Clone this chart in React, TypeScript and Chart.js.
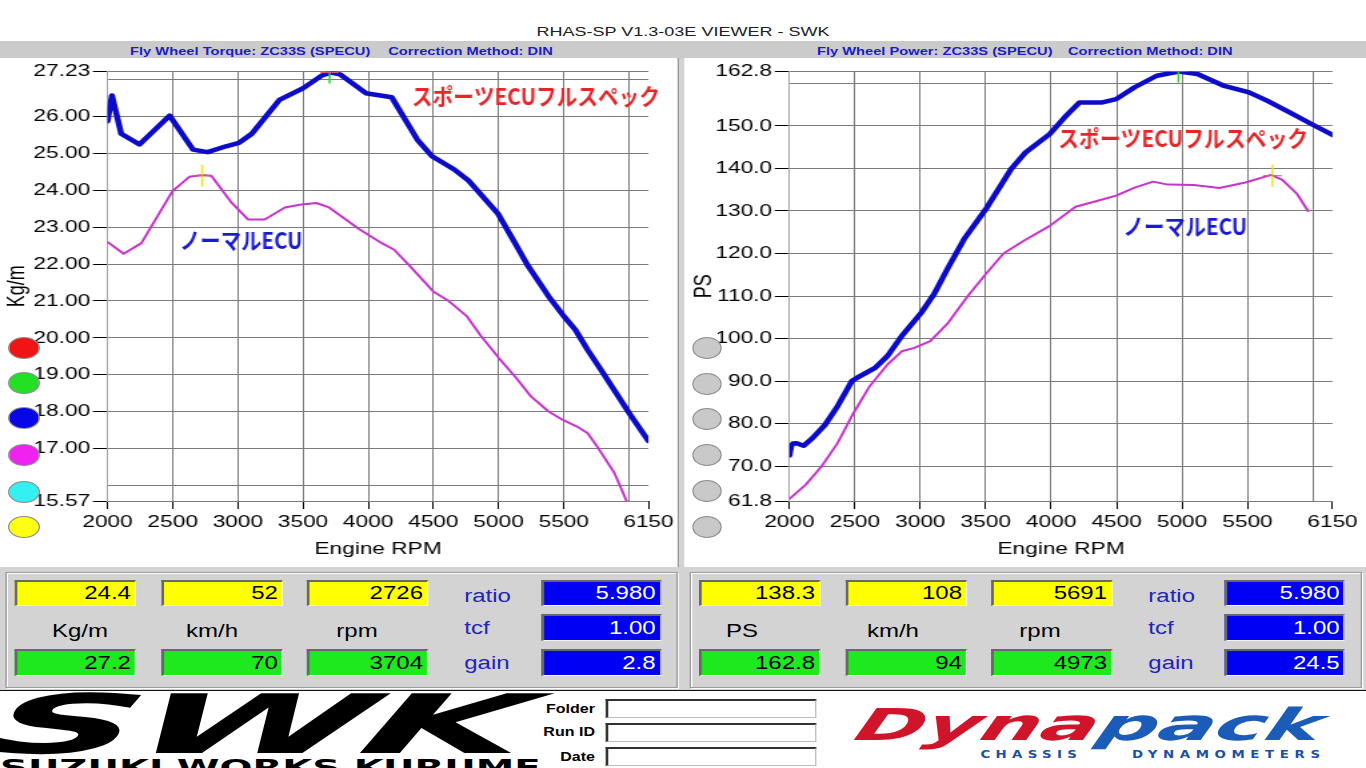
import React, { useEffect, useRef } from 'react';
import { Chart, registerables } from 'chart.js';

Chart.register(...registerables);

// The reference is a 1024-wide viewer screenshot stretched to 1366 px.
const STRETCH = 1366 / 1024;
const FONT = '"Liberation Sans", Arial, sans-serif';
const NARROW = '"Liberation Sans Narrow", "Liberation Sans", Arial, sans-serif';
const JP_FONT = '"Noto Sans CJK JP", "Noto Sans", sans-serif';
const GRID = '#7b7b7b';
const CLEAR = 'rgba(0,0,0,0)';
const SPORT_COLOR = '#0c0cc8';
const NORMAL_COLOR = '#c733cc';

// ---------------- data ----------------
const rpmTicks = [2000, 2500, 3000, 3500, 4000, 4500, 5000, 5500, 6000, 6150];
const rpmUnlabeled = [6000];

const torqueTicks = [15.57, 16, 17, 18, 19, 20, 21, 22, 23, 24, 25, 26, 27, 27.23];
const torqueUnlabeled = [16, 27];
const powerTicks = [61.8, 70, 80, 90, 100, 110, 120, 130, 140, 150, 160, 162.8];
const powerUnlabeled = [160];

// Torque (Kg/m) – sports ECU full spec
const torqueSportRpm = [2000, 2034, 2105, 2246, 2477, 2655, 2768, 2909, 3008, 3107, 3319, 3502, 3643, 3714, 3784, 3982, 4180, 4377, 4490, 4660, 4773, 4998, 5112, 5221, 5385, 5493, 5589, 5684, 5793, 5902, 6011, 6150];
const torqueSportVal = [25.88, 26.58, 25.54, 25.25, 26.03, 25.11, 25.04, 25.2, 25.29, 25.54, 26.46, 26.78, 27.12, 27.2, 27.15, 26.64, 26.53, 25.38, 24.93, 24.57, 24.26, 23.36, 22.66, 21.98, 21.12, 20.62, 20.22, 19.67, 19.09, 18.5, 17.91, 17.2];
// Torque (Kg/m) – normal ECU
const torqueNormalRpm = [2000, 2124, 2260, 2500, 2627, 2726, 2796, 2952, 3079, 3206, 3361, 3474, 3601, 3700, 3926, 4104, 4199, 4322, 4499, 4621, 4758, 4867, 5003, 5126, 5248, 5384, 5493, 5602, 5684, 5766, 5889, 5957, 5990];
const torqueNormalVal = [22.6, 22.28, 22.57, 23.99, 24.37, 24.42, 24.4, 23.67, 23.21, 23.21, 23.54, 23.61, 23.66, 23.54, 22.96, 22.57, 22.39, 21.94, 21.26, 20.99, 20.58, 20.04, 19.45, 18.95, 18.41, 18.0, 17.77, 17.59, 17.41, 17.0, 16.33, 15.78, 15.5];

// Power (PS) – sports ECU full spec
const powerSportRpm = [2000, 2014, 2027, 2054, 2109, 2177, 2272, 2368, 2477, 2518, 2654, 2749, 2858, 3008, 3104, 3213, 3335, 3509, 3693, 3805, 3989, 4102, 4215, 4384, 4497, 4638, 4807, 4976, 5117, 5314, 5512, 5653, 5822, 5992, 6150];
const powerSportVal = [72.5, 74.8, 75.3, 75.4, 74.8, 76.6, 79.7, 84.1, 90.0, 90.8, 93.1, 95.9, 100.6, 106.1, 110.4, 116.7, 123.4, 130.8, 139.8, 143.8, 148.1, 152.0, 155.5, 155.5, 156.3, 159.1, 161.8, 162.8, 162.2, 159.5, 157.9, 155.9, 153.2, 150.4, 147.9];
// Power (PS) – normal ECU
const powerNormalRpm = [2000, 2123, 2245, 2368, 2490, 2613, 2749, 2858, 2954, 3076, 3213, 3363, 3499, 3636, 3791, 3989, 4186, 4356, 4497, 4638, 4779, 4892, 5089, 5286, 5484, 5681, 5766, 5879, 5963];
const powerNormalVal = [62.3, 65.6, 69.9, 75.4, 82.5, 88.8, 93.9, 97.0, 97.8, 99.4, 103.7, 110.0, 115.1, 120.0, 123.0, 126.5, 131.0, 132.4, 133.6, 135.5, 136.9, 136.2, 136.1, 135.4, 136.7, 138.5, 137.3, 134.0, 130.0];

// curve captions: text, rpm span, value (vertical centre)
const torqueCaptions = [
  { text: 'スポーツECUフルスペック', color: '#e52629', rpmFrom: 4336, rpmTo: 6239, value: 26.57 },
  { text: 'ノーマルECU', color: '#1a1ad2', rpmFrom: 2554, rpmTo: 3495, value: 22.64 },
];
const powerCaptions = [
  { text: 'スポーツECUフルスペック', color: '#e52629', rpmFrom: 4053, rpmTo: 5964, value: 147.0 },
  { text: 'ノーマルECU', color: '#1a1ad2', rpmFrom: 4550, rpmTo: 5498, value: 126.35 },
];

// measurement cursors
const torqueCursors = [
  { rpm: 2726, value: 24.4, color: '#f2e21a' },
  { rpm: 3704, value: 27.2, color: '#2fd02f' },
];
const powerCursors = [
  { rpm: 5691, value: 138.3, color: '#f2e21a' },
  { rpm: 4973, value: 162.8, color: '#2fd02f' },
];

// read-out panels
const torqueCursorA = ['24.4', '52', '2726'];
const torqueCursorB = ['27.2', '70', '3704'];
const torqueUnits = ['Kg/m', 'km/h', 'rpm'];
const torqueParams = ['5.980', '1.00', '2.8'];
const powerCursorA = ['138.3', '108', '5691'];
const powerCursorB = ['162.8', '94', '4973'];
const powerUnits = ['PS', 'km/h', 'rpm'];
const powerParams = ['5.980', '1.00', '24.5'];
const paramNames = ['ratio', 'tcf', 'gain'];

const torqueButtons = ['#f01414', '#22e022', '#0606e6', '#f022f0', '#34f0f0', '#ffff14'];
const powerButtons = ['#c9c9c9', '#c9c9c9', '#c9c9c9', '#c9c9c9', '#c9c9c9', '#c9c9c9'];

// ---------------- chart helpers ----------------
type Caption = { text: string; color: string; rpmFrom: number; rpmTo: number; value: number };
type Cursor = { rpm: number; value: number; color: string };

function makePlugins(captions: Caption[], cursors: Cursor[]) {
  return [
    {
      id: 'cursors',
      afterDatasetsDraw(chart: any) {
        const { ctx, chartArea, scales } = chart;
        ctx.save();
        ctx.beginPath();
        ctx.rect(chartArea.left, chartArea.top, chartArea.right - chartArea.left, chartArea.bottom - chartArea.top);
        ctx.clip();
        cursors.forEach((c) => {
          const px = scales.x.getPixelForValue(c.rpm);
          const py = scales.y.getPixelForValue(c.value);
          ctx.strokeStyle = c.color;
          ctx.lineWidth = 1.5;
          ctx.beginPath();
          ctx.moveTo(px, py - 11);
          ctx.lineTo(px, py + 11);
          ctx.stroke();
          ctx.strokeStyle = '#d8607a';
          ctx.lineWidth = 1;
          ctx.beginPath();
          ctx.moveTo(px - 7, py);
          ctx.lineTo(px + 7, py);
          ctx.stroke();
        });
        ctx.restore();
      },
    },
    {
      id: 'captions',
      afterDraw(chart: any) {
        const { ctx, scales } = chart;
        captions.forEach((c) => {
          const x0 = scales.x.getPixelForValue(c.rpmFrom);
          const x1 = scales.x.getPixelForValue(c.rpmTo);
          const y = scales.y.getPixelForValue(c.value);
          ctx.save();
          ctx.font = `bold 23px ${JP_FONT}`;
          ctx.fillStyle = c.color;
          ctx.textBaseline = 'middle';
          ctx.textAlign = 'left';
          const w = ctx.measureText(c.text).width;
          ctx.translate(x0, y);
          ctx.scale((x1 - x0) / w, 1);
          ctx.fillText(c.text, 0, 0);
          ctx.restore();
        });
      },
    },
  ];
}

type Series = { rpm: number[]; val: number[]; color: string; width: number };
type ChartSpec = {
  series: Series[];
  yMin: number;
  yMax: number;
  yTicks: number[];
  yUnlabeled: number[];
  yDecimals: number;
  yTitle: string;
  yTitlePad: number;
  yAxisWidth: number;
  padRight: number;
  captions: Caption[];
  cursors: Cursor[];
};

function buildConfig(s: ChartSpec): any {
  return {
    type: 'line',
    data: {
      datasets: s.series.map((d) => ({
        data: d.rpm.map((r, i) => ({ x: r, y: d.val[i] })),
        borderColor: d.color,
        borderWidth: d.width,
        pointRadius: 0,
        tension: 0,
        fill: false,
        borderJoinStyle: 'round',
        borderCapStyle: 'round',
      })),
    },
    options: {
      animation: false,
      responsive: true,
      maintainAspectRatio: false,
      events: [],
      layout: { padding: { left: 0, top: 13.5, right: s.padRight, bottom: 0 } },
      plugins: { legend: { display: false }, tooltip: { enabled: false }, title: { display: false } },
      scales: {
        x: {
          type: 'linear',
          min: 2000,
          max: 6150,
          afterBuildTicks: (sc: any) => {
            sc.ticks = rpmTicks.map((v) => ({ value: v }));
          },
          afterFit: (sc: any) => {
            sc.height = 66;
          },
          ticks: {
            autoSkip: false,
            maxRotation: 0,
            minRotation: 0,
            padding: 3,
            color: '#000',
            font: { family: FONT, size: 17 },
            callback: (v: number) => (rpmUnlabeled.includes(v) ? '' : String(v)),
          },
          grid: {
            color: (c: any) => (c.tick && c.tick.value === 6150 ? CLEAR : GRID),
            tickColor: (c: any) => (c.tick && rpmUnlabeled.includes(c.tick.value) ? CLEAR : '#000'),
            tickLength: 8,
            lineWidth: 1,
          },
          border: { display: false },
          title: {
            display: true,
            text: 'Engine RPM',
            color: '#000',
            font: { family: NARROW, size: 17 },
            padding: { top: 0, bottom: 7.8 },
          },
        },
        y: {
          type: 'linear',
          min: s.yMin,
          max: s.yMax,
          afterBuildTicks: (sc: any) => {
            sc.ticks = s.yTicks.map((v) => ({ value: v }));
          },
          afterFit: (sc: any) => {
            sc.width = s.yAxisWidth;
          },
          ticks: {
            autoSkip: false,
            padding: 2,
            color: '#000',
            font: { family: FONT, size: 17 },
            callback: (v: number) => (s.yUnlabeled.includes(v) ? '' : Number(v).toFixed(s.yDecimals)),
          },
          grid: {
            color: GRID,
            tickColor: (c: any) => (c.tick && s.yUnlabeled.includes(c.tick.value) ? CLEAR : '#000'),
            tickLength: 11,
            lineWidth: 1,
          },
          border: { display: true, color: '#a4a4a4', width: 1 },
          title: {
            display: true,
            text: s.yTitle,
            color: '#000',
            font: { family: NARROW, size: 18 },
            padding: { top: s.yTitlePad, bottom: 0 },
          },
        },
      },
    },
    plugins: makePlugins(s.captions, s.cursors),
  };
}

function DynoChart(props: { left: number; top: number; width: number; height: number; spec: ChartSpec }) {
  const ref = useRef<HTMLCanvasElement | null>(null);
  useEffect(() => {
    if (!ref.current) return;
    const chart = new Chart(ref.current, buildConfig(props.spec));
    return () => chart.destroy();
  }, []);
  return (
    <div
      style={{
        position: 'absolute',
        left: props.left,
        top: props.top,
        width: props.width,
        height: props.height,
        background: '#fff',
      }}
    >
      <canvas ref={ref} />
    </div>
  );
}

// ---------------- HTML helpers ----------------
function Box(p: { x: number; y: number; w: number; h: number; bg: string; color: string; text: string }) {
  return (
    <div
      style={{
        position: 'absolute',
        left: p.x,
        top: p.y,
        width: p.w,
        height: p.h,
        boxSizing: 'border-box',
        background: p.bg,
        color: p.color,
        borderTop: '2px solid #686868',
        borderLeft: '2px solid #686868',
        borderBottom: '1px solid #f6f6f6',
        borderRight: '1px solid #f6f6f6',
        textAlign: 'right',
        paddingRight: 3,
        fontSize: 18,
        lineHeight: `${p.h - 3}px`,
        fontFamily: FONT,
        whiteSpace: 'nowrap',
      }}
    >
      {p.text}
    </div>
  );
}

function Readout(p: {
  left: number;
  cursorA: string[];
  cursorB: string[];
  units: string[];
  unitCenters: number[];
  params: string[];
}) {
  const cols = [7.5, 117.7, 226.4];
  const paramRows = [580, 614, 649];
  const paramH = [26, 27, 27];
  const labelY = [596, 628, 663];
  return (
    <>
      <div
        style={{
          position: 'absolute',
          left: p.left,
          top: 572,
          width: 504,
          height: 116,
          boxSizing: 'border-box',
          border: '1px solid #9c9c9c',
          boxShadow: 'inset 1px 1px 0 #fbfbfb, 1px 1px 0 #fbfbfb',
        }}
      />
      {cols.map((c, i) => (
        <Box key={'a' + i} x={p.left + c} y={580} w={91} h={26} bg="#ffff00" color="#000" text={p.cursorA[i]} />
      ))}
      {cols.map((c, i) => (
        <Box key={'b' + i} x={p.left + c} y={649} w={91} h={27} bg="#1ee81e" color="#000" text={p.cursorB[i]} />
      ))}
      {p.units.map((u, i) => (
        <div
          key={'u' + i}
          style={{
            position: 'absolute',
            left: p.left + p.unitCenters[i] - 40,
            width: 80,
            top: 620,
            textAlign: 'center',
            fontSize: 18,
            lineHeight: '22px',
            color: '#000',
          }}
        >
          {u}
        </div>
      ))}
      {paramNames.map((n, i) => (
        <div
          key={'n' + i}
          style={{
            position: 'absolute',
            left: p.left + 344.3,
            top: labelY[i] - 11,
            fontSize: 18,
            lineHeight: '22px',
            color: '#2424b8',
          }}
        >
          {n}
        </div>
      ))}
      {p.params.map((v, i) => (
        <Box key={'p' + i} x={p.left + 401.8} y={paramRows[i]} w={90} h={paramH[i]} bg="#0000f2" color="#fff" text={v} />
      ))}
    </>
  );
}

function Buttons(p: { cx: number; colors: string[]; ys: number[]; w: number }) {
  return (
    <>
      {p.colors.map((c, i) => (
        <div
          key={i}
          style={{
            position: 'absolute',
            left: p.cx - p.w / 2,
            top: p.ys[i] - 11,
            width: p.w,
            height: 22,
            boxSizing: 'border-box',
            borderRadius: '50%',
            border: '1px solid #8e8e8e',
            background: `radial-gradient(ellipse at 45% 40%, ${c} 55%, ${c} 70%, #9a9a9a 100%)`,
            zIndex: 3,
          }}
        />
      ))}
    </>
  );
}

const torqueSpec: ChartSpec = {
  series: [
    { rpm: torqueNormalRpm, val: torqueNormalVal, color: NORMAL_COLOR, width: 2 },
    { rpm: torqueSportRpm, val: torqueSportVal, color: SPORT_COLOR, width: 4.5 },
  ],
  yMin: 15.57,
  yMax: 27.23,
  yTicks: torqueTicks,
  yUnlabeled: torqueUnlabeled,
  yDecimals: 2,
  yTitle: 'Kg/m',
  yTitlePad: 2.6,
  yAxisWidth: 80.6,
  padRight: 20.4,
  captions: torqueCaptions,
  cursors: torqueCursors,
};

const powerSpec: ChartSpec = {
  series: [
    { rpm: powerNormalRpm, val: powerNormalVal, color: NORMAL_COLOR, width: 2 },
    { rpm: powerSportRpm, val: powerSportVal, color: SPORT_COLOR, width: 4.5 },
  ],
  yMin: 61.8,
  yMax: 162.8,
  yTicks: powerTicks,
  yUnlabeled: powerUnlabeled,
  yDecimals: 1,
  yTitle: 'PS',
  yTitlePad: 3.9,
  yAxisWidth: 78.8,
  padRight: 25.1,
  captions: powerCaptions,
  cursors: powerCursors,
};

const headerText: React.CSSProperties = {
  position: 'absolute',
  top: 43,
  fontSize: 11,
  fontWeight: 'bold',
  color: '#1c1cc6',
  lineHeight: '17px',
  whiteSpace: 'nowrap',
};

const infoLabel: React.CSSProperties = {
  position: 'absolute',
  left: 400,
  width: 46,
  textAlign: 'right',
  fontSize: 12,
  fontWeight: 'bold',
  color: '#000',
  lineHeight: '14px',
};

const infoField: React.CSSProperties = {
  position: 'absolute',
  left: 454,
  width: 158,
  height: 19,
  boxSizing: 'border-box',
  background: '#fff',
  borderTop: '2px solid #333',
  borderLeft: '2px solid #333',
  borderBottom: '1px solid #bbb',
  borderRight: '1px solid #bbb',
};

export default function App() {
  useEffect(() => {
    document.body.style.margin = '0';
    document.body.style.overflow = 'hidden';
  }, []);

  return (
    <div style={{ position: 'absolute', left: 0, top: 0, width: 1366, height: 768, overflow: 'hidden', background: '#fff' }}>
      <div
        style={{
          position: 'absolute',
          left: 0,
          top: 0,
          width: 1024,
          height: 768,
          transform: `scaleX(${STRETCH})`,
          transformOrigin: '0 0',
          background: '#d3d3d3',
          fontFamily: FONT,
          overflow: 'hidden',
        }}
      >
        {/* window title */}
        <div style={{ position: 'absolute', left: 0, top: 0, width: 1024, height: 41, background: '#fff' }} />
        <div
          style={{
            position: 'absolute',
            left: 0,
            top: 24,
            width: 1024,
            textAlign: 'center',
            fontSize: 13.5,
            lineHeight: '16px',
            color: '#202020',
          }}
        >
          RHAS-SP V1.3-03E VIEWER - SWK
        </div>

        {/* header bar */}
        <div style={{ position: 'absolute', left: 0, top: 41, width: 1024, height: 18, background: '#cbcbcb' }} />
        <div style={{ ...headerText, left: 97.5 }}>Fly Wheel Torque: ZC33S (SPECU)</div>
        <div style={{ ...headerText, left: 291 }}>Correction Method: DIN</div>
        <div style={{ ...headerText, left: 612.4 }}>Fly Wheel Power: ZC33S (SPECU)</div>
        <div style={{ ...headerText, left: 800.6 }}>Correction Method: DIN</div>

        {/* charts */}
        <DynoChart left={0} top={58} width={508} height={509} spec={torqueSpec} />
        <DynoChart left={513} top={58} width={511} height={509} spec={powerSpec} />
        <div style={{ position: 'absolute', left: 508, top: 58, width: 1, height: 509, background: '#9a9a9a' }} />

        <Buttons cx={18} w={24} colors={torqueButtons} ys={[348, 383, 418, 455, 492, 527]} />
        <Buttons cx={530} w={22.5} colors={powerButtons} ys={[348, 384, 419, 455, 491, 527]} />

        {/* read-outs */}
        <Readout
          left={3.7}
          cursorA={torqueCursorA}
          cursorB={torqueCursorB}
          units={torqueUnits}
          unitCenters={[56.3, 155.3, 263.9]}
          params={torqueParams}
        />
        <Readout
          left={516.5}
          cursorA={powerCursorA}
          cursorB={powerCursorB}
          units={powerUnits}
          unitCenters={[39.7, 152.9, 263.1]}
          params={powerParams}
        />

        {/* logo strip */}
        <div style={{ position: 'absolute', left: 0, top: 690, width: 1024, height: 78, background: '#fff' }} />
        <div style={{ position: 'absolute', left: 0, top: 690, width: 1024, height: 1, background: '#111' }} />

        <div
          style={{
            position: 'absolute',
            left: 3,
            top: 684,
            fontFamily: '"DejaVu Sans", sans-serif',
            fontWeight: 900,
            fontStyle: 'italic',
            fontSize: 82,
            lineHeight: '82px',
            color: '#000',
            transform: 'scaleX(1.94) skewX(-8deg)',
            transformOrigin: '0 0',
            whiteSpace: 'nowrap',
            letterSpacing: -2,
          }}
        >
          SWK
        </div>
        <div
          style={{
            position: 'absolute',
            left: 0,
            top: 757,
            fontFamily: '"DejaVu Sans", sans-serif',
            fontWeight: 900,
            fontSize: 22,
            lineHeight: '22px',
            color: '#000',
            transform: 'scaleX(1.32)',
            transformOrigin: '0 0',
            whiteSpace: 'nowrap',
          }}
        >
          SUZUKI WORKS KURUME
        </div>

        <div style={{ ...infoLabel, top: 702 }}>Folder</div>
        <div style={{ ...infoLabel, top: 725 }}>Run ID</div>
        <div style={{ ...infoLabel, top: 750 }}>Date</div>
        <div style={{ ...infoField, top: 699 }} />
        <div style={{ ...infoField, top: 723 }} />
        <div style={{ ...infoField, top: 747 }} />

        <div
          style={{
            position: 'absolute',
            left: 648,
            top: 703,
            fontFamily: '"DejaVu Sans", sans-serif',
            fontWeight: 900,
            fontStyle: 'italic',
            fontSize: 44,
            lineHeight: '44px',
            transform: 'scaleX(1.44) skewX(-10deg)',
            transformOrigin: '0 0',
            whiteSpace: 'nowrap',
          }}
        >
          <span style={{ color: '#d0142a' }}>Dyna</span>
          <span style={{ color: '#1a5cb8' }}>pack</span>
        </div>
        <div
          style={{
            position: 'absolute',
            left: 735,
            top: 749,
            fontFamily: '"DejaVu Sans", sans-serif',
            fontWeight: 'bold',
            fontSize: 10,
            lineHeight: '12px',
            letterSpacing: 4,
            color: '#1c4fa6',
            whiteSpace: 'nowrap',
          }}
        >
          CHASSIS
        </div>
        <div
          style={{
            position: 'absolute',
            left: 848.6,
            top: 749,
            fontFamily: '"DejaVu Sans", sans-serif',
            fontWeight: 'bold',
            fontSize: 10,
            lineHeight: '12px',
            letterSpacing: 4.2,
            color: '#1c4fa6',
            whiteSpace: 'nowrap',
          }}
        >
          DYNAMOMETERS
        </div>
      </div>
    </div>
  );
}
